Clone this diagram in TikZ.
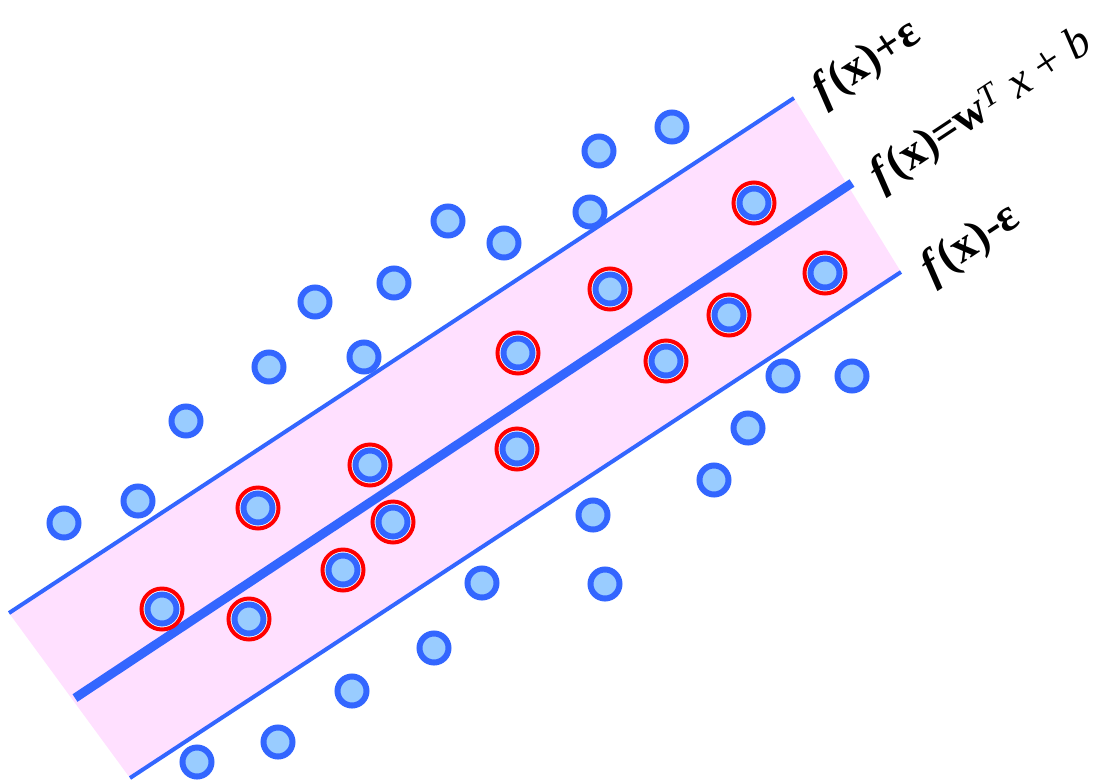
\documentclass[tikz,border=0pt]{standalone}
\usepackage{fontspec}
\setmainfont{Liberation Serif}
\definecolor{ptblue}{RGB}{51,102,255}
\definecolor{ptfill}{RGB}{153,204,255}
\definecolor{tube}{RGB}{255,224,255}
\begin{document}
\begin{tikzpicture}[x=1pt,y=-1pt,
  pt/.style={circle,draw=ptblue,fill=ptfill,line width=6pt,inner sep=0pt,minimum size=29pt},
  ring/.style={circle,draw=red,fill=white,line width=4pt,inner sep=0pt,minimum size=41pt},
  lab/.style={rotate=33.5,font=\fontsize{46}{50}\selectfont,inner sep=0pt}]
\useasboundingbox (0,0) rectangle (1095,780);

% the epsilon tube
\coordinate (A) at (9,613);
\coordinate (B) at (794,98);
\coordinate (C) at (901,272);
\coordinate (D) at (130,778);
\coordinate (M1) at (75,698);
\coordinate (M2) at (852,183);
\fill[tube] (A) -- (B) -- (C) -- (D) -- cycle;
\draw[ptblue,line width=4pt] (A) -- (B);
\draw[ptblue,line width=4pt] (D) -- (C);
\draw[ptblue,line width=9pt] (M1) -- (M2);

% points outside the tube
\foreach \x/\y [count=\i] in {672/127,599/151,590/212,448/221,504/243,394/283,315/302,
  364/357,269/367,186/421,138/501,64/523,783/376,852/376,748/428,714/480,593/515,
  605/584,482/583,434/648,352/691,278/742,197/762}
  \node[pt] (p\i) at (\x,\y) {};

% support vectors
\foreach \x/\y [count=\i] in {754/203,610/289,825/273,729/315,518/353,666/361,370/465,
  517/449,258/508,393/522,343/570,162/609,249/619}
{
  \node[ring] (r\i) at (\x,\y) {};
  \node[pt] (s\i) at (\x,\y) {};
}

\node[lab] (up) at (867,63) {\textbf{\textit{f}(x)+ε}};
\node[lab] (mid) at (982,110) {\textbf{\textit{f}(x)=w}\textsuperscript{\textit{T}} \textit{x} + \textit{b}};
\node[lab] (lo) at (971,244) {\textbf{\textit{f}(x)-ε}};
\end{tikzpicture}
\end{document}
